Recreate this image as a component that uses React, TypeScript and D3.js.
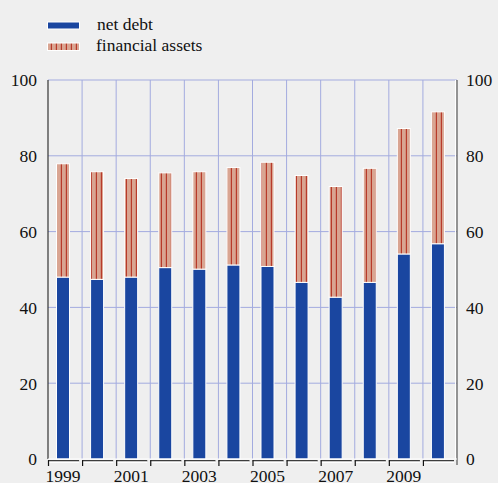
import React from "react";
import * as d3 from "d3";

const years = ["1999","2000","2001","2002","2003","2004","2005","2006","2007","2008","2009","2010"];
const netDebt = [48.0, 47.4, 48.0, 50.5, 50.1, 51.2, 50.8, 46.6, 42.7, 46.6, 54.1, 56.8];
const financialAssets = [29.9, 28.4, 26.0, 25.0, 25.7, 25.7, 27.5, 28.2, 29.2, 30.1, 33.1, 34.8];
const yTicks = [0, 20, 40, 60, 80, 100];
const xLabels = ["1999", "2001", "2003", "2005", "2007", "2009"];

const W = 498, H = 483;
const BLUE = "#1a46a0";
const SALMON = "#d9a592";
const STRIPE = "#b83a2a";
const GRID = "#a3abdf";
const FONT = "'Liberation Serif', 'DejaVu Serif', serif";

export default function App() {
  React.useEffect(() => {
    document.body.style.margin = "0";
    document.body.style.background = "#efefef";
  }, []);
  const x = d3.scaleBand<string>().domain(years).range([48, 457]).paddingInner(0).paddingOuter(0);
  const y = d3.scaleLinear().domain([0, 100]).range([459, 80]);
  const barOff = 8.5, barW = 13;
  const bounds = years.map((yr) => x(yr) as number).concat([457]);
  const txt = { fontFamily: FONT, fontSize: 17.5, fill: "#111" } as const;

  return (
    <svg width={W} height={H} style={{ display: "block", background: "#efefef" }}>
      <defs>
        <pattern id="stripes" patternUnits="userSpaceOnUse" x={0} y={0} width={5} height={10}>
          <rect x={0} y={0} width={5} height={10} fill={SALMON} />
          <rect x={0.8} y={0} width={1.2} height={10} fill={STRIPE} />
        </pattern>
      </defs>
      <rect x={0} y={0} width={W} height={H} fill="#efefef" />

      {yTicks.filter((t) => t > 0).map((t) => (
        <line key={"h" + t} x1={48} x2={457} y1={y(t)} y2={y(t)} stroke={GRID} strokeWidth={1} />
      ))}
      {bounds.slice(1, -1).map((b, i) => (
        <line key={"v" + i} x1={b} x2={b} y1={y(100)} y2={y(0)} stroke={GRID} strokeWidth={1} />
      ))}

      {years.map((yr, i) => {
        const bx = (x(yr) as number) + barOff;
        const d = netDebt[i];
        const f = financialAssets[i];
        return (
          <g key={yr}>
            <rect x={bx} y={y(d)} width={barW} height={y(0) - y(d)} fill={BLUE} stroke="#fff" strokeWidth={1} />
            <rect x={bx} y={y(d + f)} width={barW} height={y(d) - y(d + f)} fill="url(#stripes)" stroke="#fff" strokeWidth={1} />
          </g>
        );
      })}

      <line x1={48} x2={48} y1={y(100)} y2={y(0)} stroke="#333" strokeWidth={1.2} />
      <line x1={455.5} x2={455.5} y1={y(100)} y2={y(0)} stroke="#fff" strokeWidth={1} />
      <line x1={457} x2={457} y1={y(100)} y2={y(0) + 6} stroke="#555" strokeWidth={1.2} />
      <line x1={48} x2={457} y1={459} y2={459} stroke="#fff" strokeWidth={1} />
      {bounds.slice(0, -1).map((b, i) => (
        <g key={"xt" + i}>
          <line x1={b} x2={bounds[i + 1] - 3} y1={460.8} y2={460.8} stroke="#111" strokeWidth={1.2} />
          <line x1={b} x2={bounds[i + 1] - 3} y1={462.2} y2={462.2} stroke="#fff" strokeWidth={1.4} />
          <line x1={b + 0.5} x2={b + 0.5} y1={460.2} y2={466} stroke="#111" strokeWidth={1.2} />
        </g>
      ))}

      {yTicks.map((t) => (
        <g key={"yl" + t}>
          <text {...txt} x={37} y={y(t)} dy="0.36em" textAnchor="end">{t}</text>
          <text {...txt} x={466} y={y(t)} dy="0.36em" textAnchor="start">{t}</text>
        </g>
      ))}

      {xLabels.map((lab) => (
        <text key={lab} {...txt} x={(x(lab) as number) + barOff + barW / 2} y={482} textAnchor="middle">{lab}</text>
      ))}

      <rect x={47.5} y={22} width={32} height={7} fill={BLUE} stroke="#fff" strokeWidth={1} />
      <text {...txt} x={97} y={29.5}>net debt</text>
      <rect x={47.5} y={43} width={32} height={7.5} fill="url(#stripes)" stroke="#fff" strokeWidth={1} />
      <text {...txt} x={96} y={50.5}>financial assets</text>
    </svg>
  );
}
